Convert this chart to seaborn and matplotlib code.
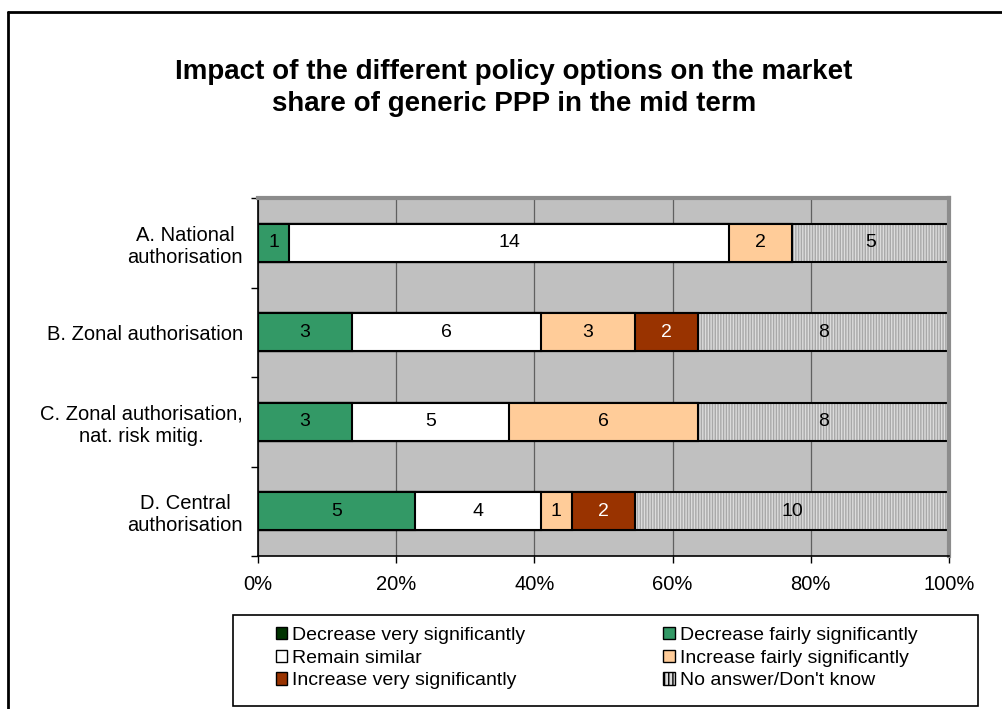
import numpy as np
import pandas as pd
import matplotlib
matplotlib.use('Agg')
import matplotlib.pyplot as plt
import seaborn as sns
from matplotlib.patches import Patch, Rectangle
from matplotlib.lines import Line2D
from matplotlib.ticker import FixedLocator, PercentFormatter

# ------------------------------------------------------------------
# Data (number of answers per option)
# ------------------------------------------------------------------
categories = ['A. National\nauthorisation',
              'B. Zonal authorisation',
              'C. Zonal authorisation,\nnat. risk mitig.',
              'D. Central\nauthorisation']

series_names = ['Decrease very significantly',
                'Decrease fairly significantly',
                'Remain similar',
                'Increase fairly significantly',
                'Increase very significantly',
                "No answer/Don't know"]

dec_very  = [0, 0, 0, 0]
dec_fair  = [1, 3, 3, 5]
remain    = [14, 6, 5, 4]
inc_fair  = [2, 3, 6, 1]
inc_very  = [0, 2, 0, 2]
no_answer = [5, 8, 8, 10]

colors = ['#003300', '#339966', '#FFFFFF', '#FFCC99', '#993300', '#DCDCDC']
label_colors = ['white', 'black', 'black', 'black', 'white', 'black']

title = 'Impact of the different policy options on the market\nshare of generic PPP in the mid term'

# ------------------------------------------------------------------
# Prepare cumulative percentages
# ------------------------------------------------------------------
df = pd.DataFrame({'category': categories})
for name, vals in zip(series_names, [dec_very, dec_fair, remain, inc_fair, inc_very, no_answer]):
    df[name] = vals
counts = df[series_names]
pct = counts.div(counts.sum(axis=1), axis=0) * 100
cum = pct.cumsum(axis=1)

sns.set_style('white')
plt.rcParams['font.family'] = ['Liberation Sans', 'DejaVu Sans']
plt.rcParams['text.color'] = 'black'
plt.rcParams['xtick.color'] = 'black'
plt.rcParams['ytick.color'] = 'black'

fig = plt.figure(figsize=(10.03, 7.09), dpi=100)
ax = fig.add_axes([258 / 1003, 1 - 556 / 709, 691 / 1003, 358 / 709])
ax.set_facecolor('#C0C0C0')

bar_w = 0.43
# draw from the longest cumulative bar down to the shortest
for i in reversed(range(len(series_names))):
    name = series_names[i]
    if i == len(series_names) - 1:
        sns.barplot(x=cum[name], y=df['category'], orient='h', ax=ax,
                    color=colors[i], saturation=1, width=bar_w,
                    edgecolor='#A8A8A8', linewidth=0, hatch='||||||')
        sns.barplot(x=cum[name], y=df['category'], orient='h', ax=ax,
                    fill=False, width=bar_w, edgecolor='black', linewidth=1.5)
    else:
        sns.barplot(x=cum[name], y=df['category'], orient='h', ax=ax,
                    color=colors[i], saturation=1, width=bar_w,
                    edgecolor='black', linewidth=1.5)

# value labels in the middle of each segment
for j in range(len(categories)):
    for i, name in enumerate(series_names):
        v = counts.loc[j, name]
        if v == 0:
            continue
        xc = cum.loc[j, name] - pct.loc[j, name] / 2
        ax.text(xc, j, str(v), ha='center', va='center',
                fontsize=14, color=label_colors[i])

# axes styling
ax.set_xlim(0, 100)
ax.set_ylim(3.5, -0.5)
ax.set_xlabel('')
ax.set_ylabel('')
ax.set_xticks([0, 20, 40, 60, 80, 100])
ax.xaxis.set_major_formatter(PercentFormatter(decimals=0))
ax.xaxis.grid(True, color='#606060', linewidth=0.9)
ax.yaxis.grid(False)
ax.set_axisbelow(True)

ax.set_yticks(range(len(categories)))
ax.set_yticklabels(categories)
for lab in ax.get_yticklabels():
    lab.set_multialignment('center')
ax.yaxis.set_minor_locator(FixedLocator(np.arange(-0.5, len(categories), 1.0)))
ax.tick_params(axis='y', which='major', length=0, pad=11, labelsize=14.5)
ax.tick_params(axis='y', which='minor', length=5, width=1, color='black', direction='out', left=True)
ax.tick_params(axis='x', which='major', length=5, width=1, color='black', direction='out',
               bottom=True, pad=9, labelsize=14.5)

for side in ['top', 'right']:
    ax.spines[side].set_color('#8C8C8C')
    ax.spines[side].set_linewidth(3)
for side in ['left', 'bottom']:
    ax.spines[side].set_color('black')
    ax.spines[side].set_linewidth(1.2)

# title
fig.text(514 / 1003, 1 - 88 / 709, title, ha='center', va='center',
         fontsize=20, fontweight='bold', linespacing=1.3)

# legend (row-wise order as in the original) with its own frame
handles = []
for i, name in enumerate(series_names):
    if i == len(series_names) - 1:
        handles.append(Patch(facecolor=colors[i], edgecolor='black', hatch='||||', linewidth=1))
    else:
        handles.append(Patch(facecolor=colors[i], edgecolor='black', linewidth=1))
order = [0, 2, 4, 1, 3, 5]
fig.patches.append(Rectangle((233 / 1003, 1 - 706 / 709), (978 - 233) / 1003, (706 - 615) / 709,
                             transform=fig.transFigure, fill=False, edgecolor='black', linewidth=1.2))
fig.legend([handles[k] for k in order], [series_names[k] for k in order],
           ncol=2, loc='upper left',
           bbox_to_anchor=(266 / 1003, 1 - 617 / 709), frameon=False,
           fontsize=14, handlelength=0.6, handleheight=0.6, handletextpad=0.25,
           columnspacing=7.1, labelspacing=0.3, borderpad=0)

# outer chart border (left and top edges visible)
fig.add_artist(Line2D([8 / 1003, 8 / 1003], [0, 1 - 12 / 709], transform=fig.transFigure,
                      color='black', linewidth=2))
fig.add_artist(Line2D([8 / 1003, 1], [1 - 12 / 709, 1 - 12 / 709], transform=fig.transFigure,
                      color='black', linewidth=2))

fig.savefig('out.png', dpi=100)
